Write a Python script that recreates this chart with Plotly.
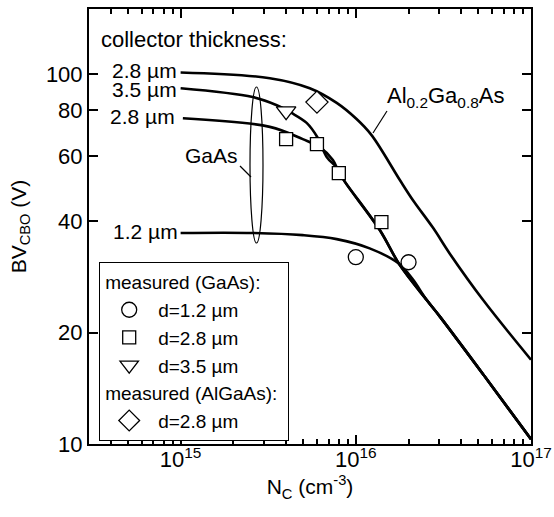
import plotly.graph_objects as go

# ---- data ----
# simulated breakdown curves: doping N_C (cm^-3) vs BV_CBO (V)
algaas_28_n = [1.0e15, 3.23e15, 5.46e15, 7.78e15, 1.01e16, 1.23e16, 1.78e16, 2.12e16, 2.76e16, 3.44e16, 5.33e16, 1.0e17]
algaas_28_bv = [101, 97.5, 91.6, 83.6, 75.6, 68.4, 51.8, 45.6, 38.4, 32.7, 24.5, 16.9]

gaas_tail_n = [1.37e16, 1.78e16, 2.54e16, 3.02e16, 5.46e16, 1.0e17]
gaas_tail_bv = [37.9, 30.5, 24.5, 22.1, 15.2, 10.3]

gaas_35_n = [1.0e15, 2.58e15, 3.54e15, 4.3e15, 5.24e15, 6.07e15, 6.82e15, 7.8e15, 8.65e15]
gaas_35_bv = [91.6, 86.7, 82.4, 78.5, 73.8, 67.2, 59.7, 55.8, 51.2]

gaas_28_n = [1.03e15, 3.23e15, 4.98e15, 6.22e15, 7.4e15, 8.0e15, 8.65e15]
gaas_28_bv = [76, 72, 66.7, 63.5, 58.6, 54.3, 51.2]

gaas_12_n = [1.0e15, 2.58e15, 4.98e15, 7.78e15, 1.2e16, 1.75e16, 2.1e16, 2.54e16, 3.02e16, 5.46e16, 1.0e17]
gaas_12_bv = [37.2, 37.2, 36.7, 35.8, 33.8, 30.8, 28.0, 24.5, 22.1, 15.2, 10.3]

# measured points
meas_12_n = [1.0e16, 2.0e16]
meas_12_bv = [32, 31]
meas_28_n = [4.0e15, 6.0e15, 8.0e15, 1.4e16]
meas_28_bv = [66.7, 64.7, 54, 39.8]
meas_35_n = [4.0e15]
meas_35_bv = [79.4]
meas_al_n = [6.0e15]
meas_al_bv = [84]

x_tickvals = [1e15, 1e16, 1e17]
x_ticktext = ["10<sup>15</sup>", "10<sup>16</sup>", "10<sup>17</sup>"]
y_tickvals = [10, 20, 40, 60, 80, 100]
x_minor = [m * 10 ** e for e in (14, 15, 16) for m in range(2, 10) if m * 10 ** e >= 3e14]

FONT = "Liberation Sans, Arial, Helvetica, sans-serif"
FS_TICK = 22
FS_TXT = 21
FS_LEG = 19

fig = go.Figure()

line_style = dict(color="black", width=2.6, shape="spline", smoothing=1.0)
curves = [
    (algaas_28_n, algaas_28_bv),
    (gaas_35_n + gaas_tail_n, gaas_35_bv + gaas_tail_bv),
    (gaas_28_n + gaas_tail_n, gaas_28_bv + gaas_tail_bv),
    (gaas_12_n, gaas_12_bv),
]
for xs, ys in curves:
    fig.add_trace(go.Scatter(x=xs, y=ys, mode="lines", line=line_style,
                             showlegend=False, hoverinfo="skip"))

mk_line = dict(color="black", width=1.3)
fig.add_trace(go.Scatter(x=meas_12_n, y=meas_12_bv, mode="markers", name="d=1.2 µm",
                         marker=dict(symbol="circle", size=15, color="white", line=mk_line),
                         legendgroup="g", legendgrouptitle=dict(text="measured (GaAs):",
                                                                font=dict(size=FS_LEG, color="black"))))
fig.add_trace(go.Scatter(x=meas_28_n, y=meas_28_bv, mode="markers", name="d=2.8 µm",
                         marker=dict(symbol="square", size=13, color="white", line=mk_line),
                         legendgroup="g"))
fig.add_trace(go.Scatter(x=meas_35_n, y=meas_35_bv, mode="markers", name="d=3.5 µm",
                         marker=dict(symbol="triangle-down", size=17, color="white", line=mk_line),
                         legendgroup="g"))
fig.add_trace(go.Scatter(x=meas_al_n, y=meas_al_bv, mode="markers", name="d=2.8 µm",
                         marker=dict(symbol="diamond", size=17, color="white", line=mk_line),
                         legendgroup="a", legendgrouptitle=dict(text="measured (AlGaAs):",
                                                                font=dict(size=FS_LEG, color="black"))))

W, H = 554, 517
L, R, T, B = 89, 23, 9, 73
PW, PH = W - L - R, H - T - B


def px(x):  # page pixel -> paper x
    return (x - L) / PW


def py(y):  # page pixel -> paper y
    return (H - B - y) / PH


ann = [
    dict(text="collector thickness:", x=px(99), y=py(40), xanchor="left", size=22),
    dict(text="2.8 µm", x=px(179), y=py(70), xanchor="right", size=FS_TXT),
    dict(text="3.5 µm", x=px(179), y=py(89), xanchor="right", size=FS_TXT),
    dict(text="2.8 µm", x=px(177), y=py(116), xanchor="right", size=FS_TXT),
    dict(text="1.2 µm", x=px(180), y=py(231), xanchor="right", size=FS_TXT),
    dict(text="GaAs", x=px(211), y=py(155), xanchor="center", size=FS_TXT),
    dict(text="Al<sub>0.2</sub>Ga<sub>0.8</sub>As", x=px(385), y=py(97), xanchor="left", size=22),
]
annotations = []
for a in ann:
    annotations.append(dict(text=a["text"], x=a["x"], y=a["y"], xref="paper", yref="paper",
                            xanchor=a["xanchor"], yanchor="middle", showarrow=False,
                            font=dict(family=FONT, size=a["size"], color="black")))

shapes = [
    dict(type="circle", xref="paper", yref="paper", x0=px(250), x1=px(263), y0=py(243), y1=py(87),
         line=dict(color="black", width=1.2)),
    dict(type="line", xref="paper", yref="paper", x0=px(240), y0=py(166), x1=px(251), y1=py(177),
         line=dict(color="black", width=1.2)),
    dict(type="line", xref="paper", yref="paper", x0=px(387), y0=py(111), x1=px(373), y1=py(133),
         line=dict(color="black", width=1.2)),
]

fig.update_layout(
    width=W, height=H,
    margin=dict(l=L, r=R, t=T, b=B, autoexpand=False),
    paper_bgcolor="white", plot_bgcolor="white",
    font=dict(family=FONT, size=FS_TICK, color="black"),
    annotations=annotations, shapes=shapes,
    legend=dict(x=px(99), y=py(262), xanchor="left", yanchor="top",
                bgcolor="white", bordercolor="black", borderwidth=1.2,
                tracegroupgap=0, itemwidth=48,
                font=dict(family=FONT, size=FS_LEG, color="black")),
    xaxis=dict(type="log", range=[14.477, 17], showline=True, linecolor="black", linewidth=2,
               mirror="allticks", ticks="inside", ticklen=9, tickwidth=1.5, tickcolor="black",
               tickvals=x_tickvals, ticktext=x_ticktext, showgrid=False, zeroline=False,
               automargin=False, tickfont=dict(size=FS_TICK), ticklabelstandoff=-5,
               minor=dict(ticks="inside", ticklen=5, tickwidth=1.5, tickcolor="black",
                          tickvals=x_minor, showgrid=False),
               title=dict(text="N<sub>C</sub> (cm<sup>-3</sup>)", standoff=4,
                          font=dict(family=FONT, size=FS_TXT))),
    yaxis=dict(type="log", range=[1, 2.176], showline=True, linecolor="black", linewidth=2,
               mirror="allticks", ticks="inside", ticklen=9, tickwidth=1.5, tickcolor="black",
               tickvals=y_tickvals, ticktext=[str(v) for v in y_tickvals],
               showgrid=False, zeroline=False, automargin=False, tickfont=dict(size=FS_TICK),
               title=dict(text="BV<sub>CBO</sub> (V)", standoff=14,
                          font=dict(family=FONT, size=FS_TXT))),
)

fig.write_html("out.html", config={"displayModeBar": False},
               post_script="document.body.style.margin='0px';")
